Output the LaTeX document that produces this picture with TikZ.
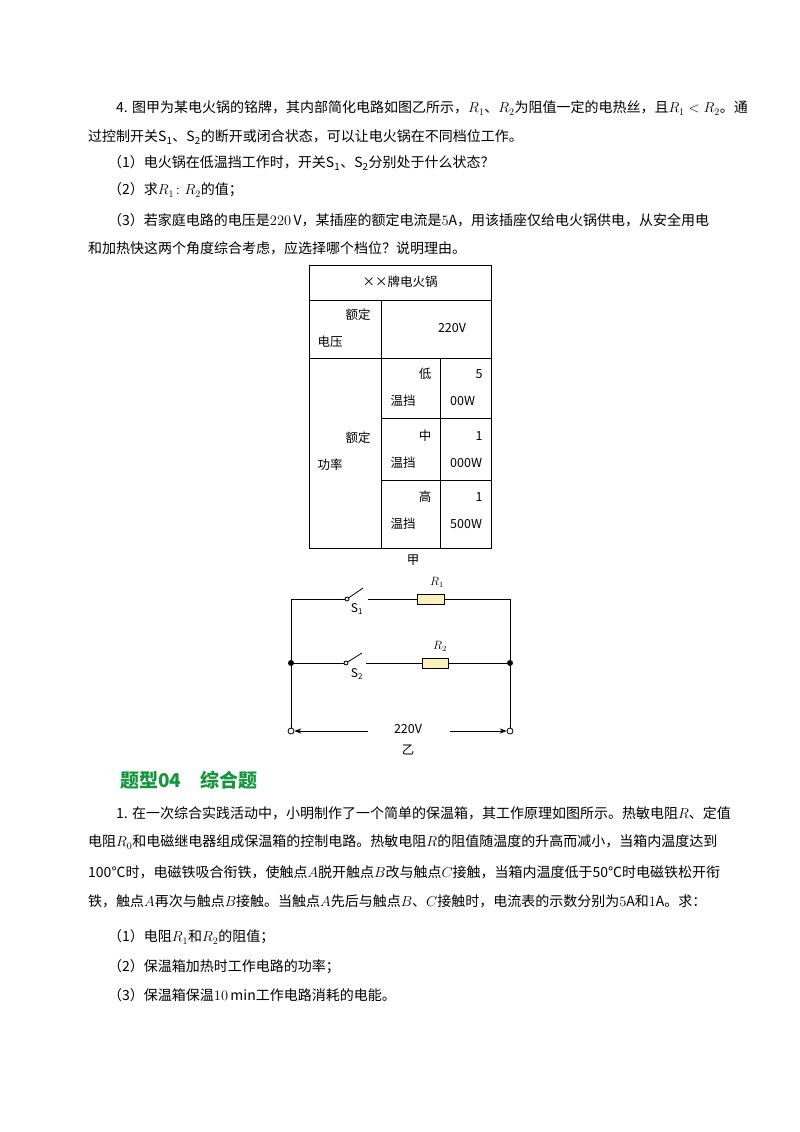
\documentclass[tikz,border=0pt]{standalone}
\usepackage{fontspec}
\usepackage{amsmath}
\setmainfont{Noto Sans CJK SC}
\usetikzlibrary{arrows.meta}
\definecolor{headgreen}{RGB}{20,150,60}
\definecolor{resfill}{RGB}{250,240,185}
\tikzset{
  txt/.style={anchor=west,inner sep=0pt,font=\fontsize{14}{16}\selectfont},
  cell/.style={inner sep=0pt,font=\fontsize{12.5}{15}\selectfont},
  lab/.style={inner sep=0pt,font=\fontsize{12}{14}\selectfont},
  res/.style={draw,fill=resfill,line width=0.8pt},
  wire/.style={line width=0.8pt},
  term/.style={circle,draw,fill=white,inner sep=0pt,minimum size=6pt,line width=0.8pt},
  junc/.style={circle,fill,inner sep=0pt,minimum size=6pt},
}
\begin{document}
\begin{tikzpicture}[x=1pt,y=-1pt]
\useasboundingbox (0,0) rectangle (800,1132);
\fill[white] (0,0) rectangle (800,1132);

% question 4
\node[txt] (l1) at (116,108) {4. 图甲为某电火锅的铭牌，其内部简化电路如图乙所示，$R_1$、$R_2$为阻值一定的电热丝，且$R_1<R_2$。通};
\node[txt] (l2) at (88,137) {过控制开关S\textsubscript{1}、S\textsubscript{2}的断开或闭合状态，可以让电火锅在不同档位工作。};
\node[txt] (l3) at (108,163) {（1）电火锅在低温挡工作时，开关S\textsubscript{1}、S\textsubscript{2}分别处于什么状态？};
\node[txt] (l4) at (108,190) {（2）求$R_1\colon R_2$的值；};
\node[txt] (l5) at (108,220) {（3）若家庭电路的电压是$220\,\mathrm{V}$，某插座的额定电流是$5\mathrm{A}$，用该插座仅给电火锅供电，从安全用电};
\node[txt] (l6) at (88,248) {和加热快这两个角度综合考虑，应选择哪个档位？说明理由。};

% table
\draw[line width=0.8pt] (309,265) rectangle (491,548);
\draw[line width=0.8pt] (309,300) -- (491,300);
\draw[line width=0.8pt] (309,358) -- (491,358);
\draw[line width=0.8pt] (381,300) -- (381,548);
\draw[line width=0.8pt] (440,358) -- (440,548);
\draw[line width=0.8pt] (381,418) -- (491,418);
\draw[line width=0.8pt] (381,480) -- (491,480);
\node[cell] (title) at (400,282) {××牌电火锅};
\node[cell] (ed1) at (358,315) {额定};
\node[cell] (dy) at (330,342) {电压};
\node[cell] (v220) at (452,328) {220V};
\node[cell] (ed2) at (358,438) {额定};
\node[cell] (gl) at (330,465) {功率};
\foreach \y/\a/\b/\c in {374/低/5/00W, 436/中/1/000W, 497/高/1/500W}{
  \node[cell] at (425,\y) {\a};
  \node[cell] at (403,\y+27) {温挡};
  \node[cell] at (479,\y) {\b};
  \node[cell,anchor=west] at (450,\y+27) {\c};
}
\node[cell] (jia) at (413,560) {甲};

% circuit
\coordinate (tl) at (291,599);
\coordinate (tr) at (510,599);
\node[junc] (jl) at (291,663) {};
\node[junc] (jr) at (510,663) {};
\node[term] (al) at (291,731) {};
\node[term] (ar) at (510,731) {};
\draw[wire] (al) -- (jl) -- (tl) -- (345,599);
\draw[wire] (368,599) -- (417,599);
\draw[wire] (444,599) -- (tr) -- (jr) -- (ar);
\node[term,minimum size=4pt,fill=resfill] (s1) at (347,599) {};
\draw[wire] (s1) -- (363,588);
\draw[res] (417,594) rectangle (444,604);
\node[lab] at (437,582) {$R_1$};
\node[lab] at (357,609) {S\textsubscript{1}};
\draw[wire] (jl) -- (344,663);
\draw[wire] (366,663) -- (422,663);
\draw[wire] (448,663) -- (jr);
\node[term,minimum size=4pt,fill=resfill] (s2) at (346,663) {};
\draw[wire] (s2) -- (362,653);
\draw[res] (422,658) rectangle (448,668);
\node[lab] at (440,646) {$R_2$};
\node[lab] at (357,674) {S\textsubscript{2}};
\node[cell] (u) at (408,729) {220V};
\draw[wire,-{Stealth[length=7pt]}] (368,731) -- (al);
\draw[wire,-{Stealth[length=7pt]}] (450,731) -- (ar);
\node[cell] (yi) at (408,750) {乙};

% section 04
\node[txt,font=\fontsize{19}{22}\selectfont\bfseries,text=headgreen] (sec) at (120,780) {题型04\quad 综合题};
\node[txt] (m1) at (116,813) {1. 在一次综合实践活动中，小明制作了一个简单的保温箱，其工作原理如图所示。热敏电阻$R$、定值};
\node[txt] (m2) at (88,842) {电阻$R_0$和电磁继电器组成保温箱的控制电路。热敏电阻$R$的阻值随温度的升高而减小，当箱内温度达到};
\node[txt] (m3) at (88,872) {100℃时，电磁铁吸合衔铁，使触点$A$脱开触点$B$改与触点$C$接触，当箱内温度低于50℃时电磁铁松开衔};
\node[txt] (m4) at (88,901) {铁，触点$A$再次与触点$B$接触。当触点$A$先后与触点$B$、$C$接触时，电流表的示数分别为$5\mathrm{A}$和$1\mathrm{A}$。求：};
\node[txt] (m5) at (108,937) {（1）电阻$R_1$和$R_2$的阻值；};
\node[txt] (m6) at (108,967) {（2）保温箱加热时工作电路的功率；};
\node[txt] (m7) at (108,995) {（3）保温箱保温$10\,\mathrm{min}$工作电路消耗的电能。};
\end{tikzpicture}
\end{document}
